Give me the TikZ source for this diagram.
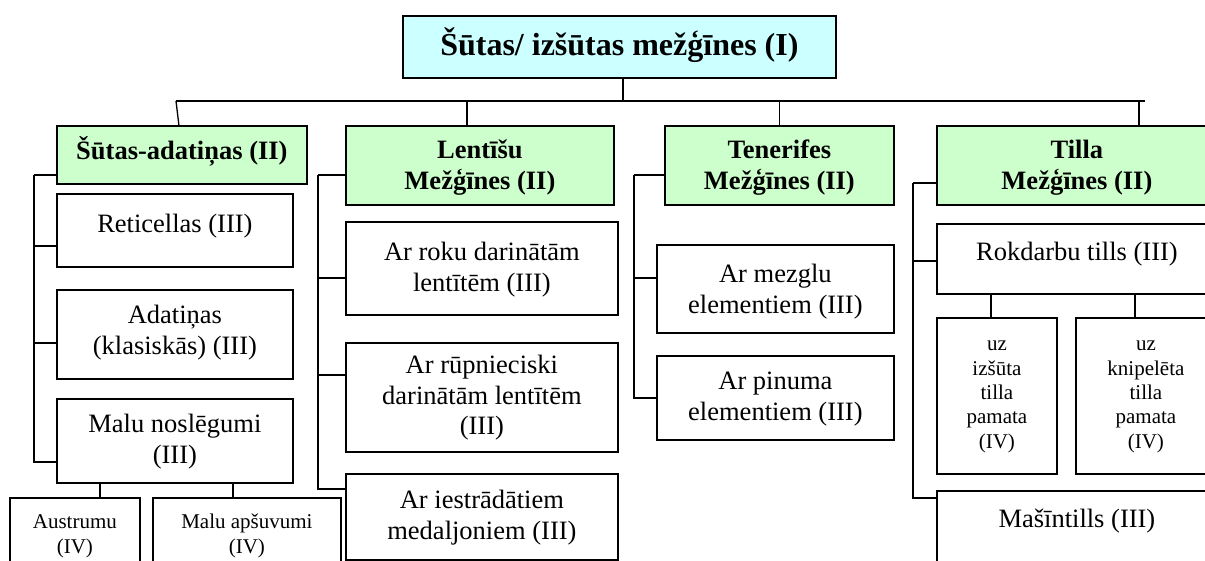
\documentclass[tikz,border=0pt]{standalone}
\usepackage{fontspec}
\setmainfont{Liberation Serif}
\definecolor{topcyan}{HTML}{CCFFFF}
\definecolor{levgreen}{HTML}{CCFFCC}
\begin{document}
\begin{tikzpicture}[x=1pt, y=-1pt, line width=1.3pt,
  box/.style n args={4}{draw, line width=1.8pt, anchor=north west, align=center, inner ysep=0pt,
    minimum width=#1, text height=#2, text depth=#3, font=#4},
  body/.style={font=\fontsize{26.5}{30.5}\selectfont},
  small/.style={font=\fontsize{21}{24.3}\selectfont},
  lev/.style={fill=levgreen, font=\fontsize{26.5}{30.5}\selectfont\bfseries}]
    \useasboundingbox (0,0) rectangle (1205,561);
    \clip (0,0) rectangle (1205,561);

    \node[box={433pt}{40pt}{22pt}{}, fill=topcyan, font=\fontsize{32}{37}\selectfont\bfseries] (top) at (402,15) {Šūtas/ izšūtas mežģīnes (I)};

    \node[box={250pt}{34pt}{24pt}{}, lev] (sa) at (56,125) {Šūtas-adatiņas (II)};
    \node[box={268pt}{63.5pt}{15.5pt}{}, lev] (len) at (345,125) {Lentīšu\\Mežģīnes (II)};
    \node[box={229pt}{63.5pt}{15.5pt}{}, lev] (ten) at (664,125) {Tenerifes\\Mežģīnes (II)};
    \node[box={280pt}{63.5pt}{15.5pt}{}, lev] (til) at (936,125) {Tilla\\Mežģīnes (II)};

    \node[box={236pt}{39pt}{34pt}{}, body] (ret) at (56,193) {Reticellas (III)};
    \node[box={236pt}{64.5pt}{24.5pt}{}, body] (ada) at (56,289) {Adatiņas\\(klasiskās) (III)};
    \node[box={236pt}{64.5pt}{19.5pt}{}, body] (malu) at (56,398) {Malu noslēgumi\\(III)};
    \node[box={130pt}{55.3pt}{24.7pt}{}, small] (aus) at (9,497) {Austrumu\\(IV)};
    \node[box={188pt}{55.3pt}{24.7pt}{}, small] (aps) at (152,497) {Malu apšuvumi\\(IV)};

    \node[box={272pt}{69.5pt}{23.5pt}{}, body] (roku) at (345,221) {Ar roku darinātām\\lentītēm (III)};
    \node[box={272pt}{92pt}{17pt}{}, body] (rup) at (345,342) {Ar rūpnieciski\\darinātām lentītēm\\(III)};
    \node[box={272pt}{65.5pt}{20.5pt}{}, body] (iest) at (345,473) {Ar iestrādātiem\\medaljoniem (III)};

    \node[box={237pt}{68.5pt}{19.5pt}{}, body] (mez) at (656,244) {Ar mezglu\\elementiem (III)};
    \node[box={237pt}{64.5pt}{19.5pt}{}, body] (pin) at (656,355) {Ar pinuma\\elementiem (III)};

    \node[box={280pt}{37pt}{33pt}{}, body] (rok) at (936,223) {Rokdarbu tills (III)};
    \node[box={120pt}{130.2pt}{25.8pt}{}, small] (izs) at (936,317) {uz\\izšūta\\tilla\\pamata\\(IV)};
    \node[box={140pt}{130.2pt}{25.8pt}{}, small] (kni) at (1075,317) {uz\\knipelēta\\tilla\\pamata\\(IV)};
    \node[box={280pt}{37pt}{53pt}{}, body] (mas) at (936,490) {Mašīntills (III)};

    \coordinate (busl) at (176,101);
    \coordinate (busr) at (1145,101);
    \coordinate (sal) at (34,175);
    \coordinate (lel) at (318,175);
    \coordinate (tel) at (634,175);
    \coordinate (til2) at (913,183);

    \draw [line width=1.8pt] (busl) -- (busr);
    \draw ([xshift=3.5pt]top.south) -- ([xshift=3.5pt]top.south |- busl);
    \draw (busl) -- ([xshift=-3pt]sa.north);
    \draw ([xshift=-13pt]len.north) -- ([xshift=-13pt]len.north |- busl);
    \draw (ten.north) -- (ten.north |- busl);
    \draw ([xshift=62pt]til.north) -- ([xshift=62pt]til.north |- busl);

    \draw (sal) -- (sal -| sa.west);
    \draw (sal) |- ([yshift=-21pt]malu.west);
    \draw ([yshift=-15.5pt]ret.west) -- ([yshift=-15.5pt]ret.west -| sal);
    \draw ([yshift=-8.5pt]ada.west) -- ([yshift=-8.5pt]ada.west -| sal);
    \draw ([xshift=25pt]aus.north) -- ([xshift=25pt]aus.north |- malu.south);
    \draw ([xshift=-14pt]aps.north) -- ([xshift=-14pt]aps.north |- malu.south);

    \draw (lel) -- (lel -| len.west);
    \draw (lel) |- ([yshift=28pt]iest.west);
    \draw ([yshift=-9.5pt]roku.west) -- ([yshift=-9.5pt]roku.west -| lel);
    \draw ([yshift=22.5pt]rup.west) -- ([yshift=22.5pt]rup.west -| lel);

    \draw (tel) -- (tel -| ten.west);
    \draw (tel) |- (pin.west);
    \draw ([yshift=11pt]mez.west) -- ([yshift=11pt]mez.west -| tel);

    \draw (til2) -- (til2 -| til.west);
    \draw (til2) |- ([yshift=38pt]mas.west);
    \draw ([yshift=-2pt]rok.west) -- ([yshift=-2pt]rok.west -| til2);
    \draw ([xshift=-6pt]izs.north) -- ([xshift=-6pt]izs.north |- rok.south);
    \draw ([xshift=-11pt]kni.north) -- ([xshift=-11pt]kni.north |- rok.south);
\end{tikzpicture}
\end{document}
